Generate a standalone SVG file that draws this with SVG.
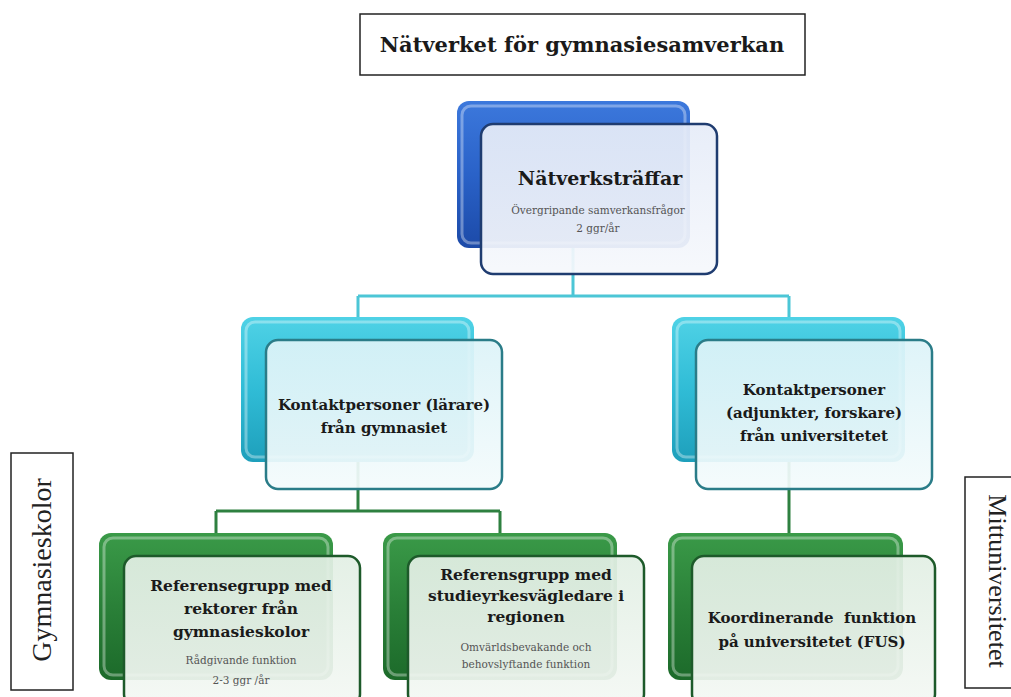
<svg xmlns="http://www.w3.org/2000/svg" width="1011" height="697" viewBox="0 0 1011 697">
<style>
.lbl{fill:#fff;stroke:#222;stroke-width:1.5}
.t{font-family:"DejaVu Serif","Liberation Serif",serif;fill:#1a1a1a;text-anchor:middle}
.b{font-weight:bold}
.s{font-family:"DejaVu Serif","Liberation Serif",serif;fill:#555;text-anchor:middle;font-size:10.5px}
.side{font-family:"Liberation Serif",serif;fill:#222;text-anchor:middle}
.hl{fill:none;stroke:#fff;stroke-opacity:0.35;stroke-width:3}
.fb{fill:url(#fblue);stroke:#1f3c70;stroke-width:2.5}
.fc{fill:url(#fcyan);stroke:#2a7c88;stroke-width:2.5}
.fg{fill:url(#fgreen);stroke:#1d5a2a;stroke-width:2.5}
.cc{stroke:#4cc6d6;stroke-width:3;fill:none}
.cg{stroke:#2e8040;stroke-width:3;fill:none}
</style>
<defs>
<linearGradient id="gblue" x1="0" y1="0" x2="0" y2="1"><stop offset="0" stop-color="#3c78dc"/><stop offset="0.5" stop-color="#2a62c8"/><stop offset="1" stop-color="#1c4aa8"/></linearGradient>
<linearGradient id="gcyan" x1="0" y1="0" x2="0" y2="1"><stop offset="0" stop-color="#4fd2e6"/><stop offset="0.5" stop-color="#30bcd6"/><stop offset="1" stop-color="#1e9fbb"/></linearGradient>
<linearGradient id="ggreen" x1="0" y1="0" x2="0" y2="1"><stop offset="0" stop-color="#3a9a48"/><stop offset="0.5" stop-color="#2a8038"/><stop offset="1" stop-color="#1c6a2a"/></linearGradient>
<linearGradient id="fblue" x1="0" y1="0" x2="0" y2="1"><stop offset="0" stop-color="#e6ecf8" stop-opacity="0.93"/><stop offset="1" stop-color="#f6f8fc" stop-opacity="0.93"/></linearGradient>
<linearGradient id="fcyan" x1="0" y1="0" x2="0" y2="1"><stop offset="0" stop-color="#dcf3f8" stop-opacity="0.93"/><stop offset="1" stop-color="#f4fbfc" stop-opacity="0.93"/></linearGradient>
<linearGradient id="fgreen" x1="0" y1="0" x2="0" y2="1"><stop offset="0" stop-color="#e2efe4" stop-opacity="0.93"/><stop offset="1" stop-color="#f4f8f4" stop-opacity="0.93"/></linearGradient>
</defs>

<g id="title">
<rect class="lbl" x="360" y="14" width="445" height="61"/>
<text class="t b" x="582" y="52" font-size="21">Nätverket för gymnasiesamverkan</text>
</g>

<g id="label-gymnasieskolor">
<rect class="lbl" x="11" y="453" width="62" height="237"/>
<text class="side" transform="translate(51,570) rotate(-90)" font-size="28">Gymnasieskolor</text>
</g>

<g id="label-mittuniversitetet">
<rect class="lbl" x="965" y="477" width="60" height="211"/>
<text class="side" transform="translate(989,581) rotate(90)" font-size="26">Mittuniversitetet</text>
</g>

<g id="connectors">
<path class="cc" d="M573 248V296M358 296H789M358 296V318M789 296V318"/>
<path class="cg" d="M358 462V511M216 511H500M216 511V534M500 511V534M789 462V534"/>
</g>

<g id="n-natverkstraffar">
<rect x="457" y="101" width="233" height="147" rx="12" fill="url(#gblue)"/>
<rect class="hl" x="462" y="106" width="223" height="137" rx="9"/>
<rect class="fb" x="481" y="124" width="236" height="150" rx="12"/>
<text class="t b" x="600" y="185" font-size="19">Nätverksträffar</text>
<text class="s" x="598" y="214">Övergripande samverkansfrågor</text>
<text class="s" x="598" y="232">2 ggr/år</text>
</g>

<g id="n-kontakt-gymnasiet">
<rect x="241" y="317" width="233" height="145" rx="12" fill="url(#gcyan)"/>
<rect class="hl" x="246" y="322" width="223" height="135" rx="9"/>
<rect class="fc" x="266" y="340" width="236" height="149" rx="12"/>
<text class="t b" x="384" y="410" font-size="15">Kontaktpersoner (lärare)</text>
<text class="t b" x="384" y="433" font-size="15">från gymnasiet</text>
</g>

<g id="n-kontakt-universitetet">
<rect x="672" y="317" width="233" height="145" rx="12" fill="url(#gcyan)"/>
<rect class="hl" x="677" y="322" width="223" height="135" rx="9"/>
<rect class="fc" x="696" y="340" width="236" height="149" rx="12"/>
<text class="t b" x="814" y="395" font-size="15">Kontaktpersoner</text>
<text class="t b" x="814" y="418" font-size="15">(adjunkter, forskare)</text>
<text class="t b" x="814" y="441" font-size="15">från universitetet</text>
</g>

<g id="n-ref-rektorer">
<rect x="99" y="533" width="234" height="147" rx="12" fill="url(#ggreen)"/>
<rect class="hl" x="104" y="538" width="224" height="137" rx="9"/>
<rect class="fg" x="124" y="556" width="236" height="150" rx="12"/>
<text class="t b" x="241" y="591" font-size="15.5">Referensegrupp med</text>
<text class="t b" x="241" y="614" font-size="15.5">rektorer från</text>
<text class="t b" x="241" y="637" font-size="15.5">gymnasieskolor</text>
<text class="s" x="241" y="664" font-size="10">Rådgivande funktion</text>
<text class="s" x="241" y="684" font-size="10">2-3 ggr /år</text>
</g>

<g id="n-ref-studie">
<rect x="383" y="533" width="234" height="147" rx="12" fill="url(#ggreen)"/>
<rect class="hl" x="388" y="538" width="224" height="137" rx="9"/>
<rect class="fg" x="408" y="556" width="236" height="150" rx="12"/>
<text class="t b" x="526" y="580" font-size="15.5">Referensgrupp med</text>
<text class="t b" x="526" y="601" font-size="15.5">studieyrkesvägledare i</text>
<text class="t b" x="526" y="622" font-size="15.5">regionen</text>
<text class="s" x="526" y="651" font-size="11">Omvärldsbevakande och</text>
<text class="s" x="526" y="668" font-size="11">behovslyftande funktion</text>
</g>

<g id="n-koordinerande">
<rect x="668" y="533" width="235" height="147" rx="12" fill="url(#ggreen)"/>
<rect class="hl" x="673" y="538" width="225" height="137" rx="9"/>
<rect class="fg" x="692" y="556" width="243" height="150" rx="12"/>
<text class="t b" x="812" y="623" font-size="15" xml:space="preserve">Koordinerande  funktion</text>
<text class="t b" x="812" y="647" font-size="15">på universitetet (FUS)</text>
</g>
</svg>
